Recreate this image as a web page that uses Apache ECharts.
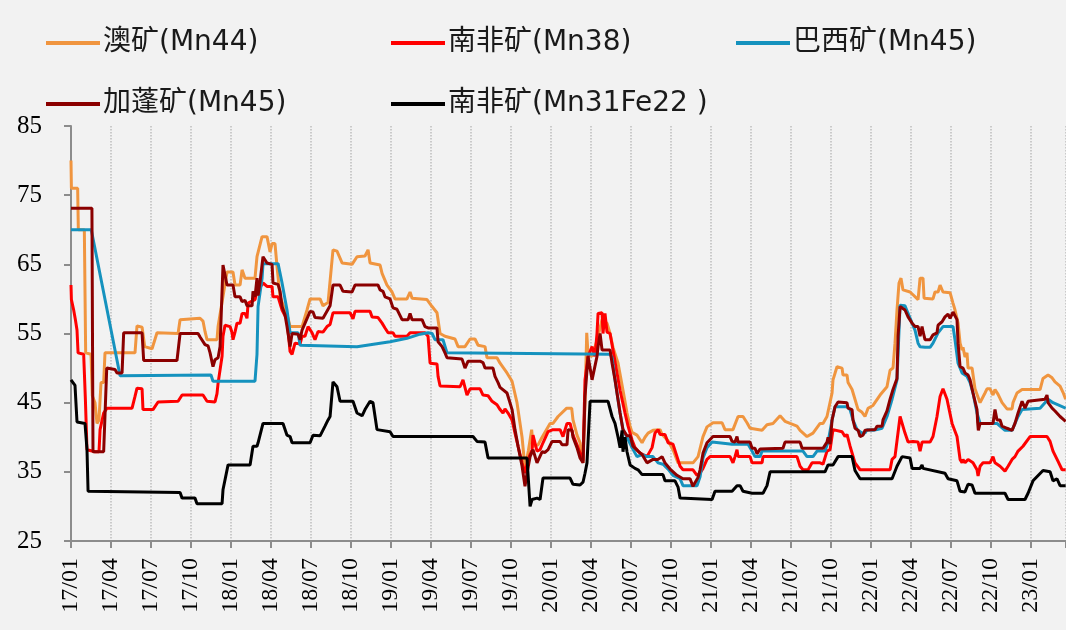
<!DOCTYPE html>
<html>
<head>
<meta charset="utf-8">
<script src="https://cdn.jsdelivr.net/npm/echarts@6/dist/echarts.min.js"></script>
<style>
html,body{margin:0;padding:0;background:#f2f2f2;}
#chart{width:1066px;height:630px;}
</style>
</head>
<body>
<div id="chart"></div>
<script>
// x = months since 2017-01 (value axis, one quarter = 3)
const quarterLabels = ['17/01','17/04','17/07','17/10','18/01','18/04','18/07','18/10','19/01','19/04','19/07','19/10','20/01','20/04','20/07','20/10','21/01','21/04','21/07','21/10','22/01','22/04','22/07','22/10','23/01'];
const seriesNames = ['澳矿(Mn44)','南非矿(Mn38)','巴西矿(Mn45)','加蓬矿(Mn45)','南非矿(Mn31Fe22 )'];

const ausMn44 = [[0,80],[0.03,76],[0.5,76],[0.55,70],[1.0,70],[1.1,52.2],[1.5,52],[1.6,46],[1.8,45],[1.95,42],[2.1,42.5],[2.25,47.9],[2.45,47.9],[2.55,52.2],[4.8,52.2],[4.95,56.1],[5.33,55.9],[5.53,53.1],[6.08,52.8],[6.45,55.1],[8.03,55],[8.18,57],[9.68,57.2],[9.9,56.8],[10.05,55.3],[10.2,54.1],[10.95,54.1],[11.03,56],[11.18,56],[11.7,63.9],[12.15,63.9],[12.3,62],[12.68,62],[12.83,64.2],[13.05,63],[13.8,63],[13.95,66.1],[14.33,69],[14.7,69],[14.93,66.8],[15.08,68],[15.3,68],[15.45,64.7],[15.68,60.3],[16.05,58.4],[16.28,57.2],[16.43,56],[17.33,56],[17.7,58.4],[17.93,60],[18.68,60],[18.9,59],[19.28,59.5],[19.65,67.1],[19.95,66.9],[20.33,65.2],[21.08,65],[21.45,66.1],[22.05,66.2],[22.28,67.1],[22.43,65.2],[23.18,64.9],[23.33,63.7],[23.7,62],[24.08,61],[24.3,60],[25.2,60],[25.43,61],[25.58,60.1],[26.7,59.9],[27.08,58.9],[27.45,58],[27.68,55],[28.05,54.6],[28.8,54.2],[29.03,53.1],[29.55,53.1],[29.93,54.2],[30.3,54.2],[30.53,53.3],[31.05,53.1],[31.2,51.5],[31.95,51.5],[32.18,50.7],[32.7,49.3],[33.08,48.1],[33.45,45],[33.83,40],[34.05,35.5],[34.3,38],[34.55,41.1],[34.65,38.7],[35.03,38.9],[35.3,39.9],[35.93,42],[36.15,42],[36.53,43],[37.18,44.2],[37.55,44.2],[37.65,42.5],[37.95,40.3],[38.18,39.2],[38.4,36.3],[38.55,45],[38.68,55.1],[38.78,52],[39.08,51.7],[39.45,54],[39.83,57],[40.2,56.5],[40.43,55],[40.65,53],[41.03,50.7],[41.4,46.8],[41.7,43.5],[41.93,41.6],[42.08,40.7],[42.45,40.3],[42.83,39.2],[43.05,40],[43.28,40.6],[43.65,41],[44.18,41.1],[44.33,40.4],[44.78,39.5],[45.15,38.2],[45.53,36.3],[46.65,36.3],[47.03,37.2],[47.4,40.1],[47.7,41.5],[48.15,42.1],[48.83,42.1],[49.05,41.1],[49.65,41.1],[50.03,43],[50.4,43],[50.7,42.1],[50.93,41.3],[51.83,41],[52.2,41.8],[52.65,42],[53.18,43.1],[53.55,42.3],[53.93,42],[54.45,41.6],[54.68,41],[55.2,40.1],[55.65,40.6],[56.18,42],[56.4,42],[56.7,43],[57.08,46.4],[57.15,48.3],[57.45,50.2],[57.83,50],[57.9,49],[58.2,49],[58.28,47.9],[58.58,46.9],[59.03,44],[59.33,43.6],[59.55,43],[59.78,44.2],[60.15,44.6],[60.68,46.1],[61.2,47.3],[61.43,49.7],[61.65,50],[61.8,53.6],[61.95,58.4],[62.1,62.3],[62.25,63],[62.4,61.3],[62.93,61],[63.15,60.6],[63.53,59.9],[63.68,63],[63.9,63],[63.98,60.1],[64.65,60],[64.8,61],[65.03,61],[65.18,62],[65.4,61],[65.93,60.9],[66.15,59.4],[66.3,58.4],[66.53,56.5],[66.68,53.6],[66.83,52.6],[66.9,53],[67.05,51.6],[67.2,52.2],[67.28,50],[67.58,50],[67.8,47],[68.18,45],[68.55,46.4],[68.7,47],[68.93,47],[69.15,46.1],[69.3,46.9],[69.53,46.2],[69.83,45],[70.2,44.1],[70.58,44.1],[70.65,45],[70.95,46.4],[71.33,46.9],[72.68,46.9],[72.9,48.5],[73.28,49],[73.58,48.6],[73.8,48],[74.18,47.4],[74.4,46.5],[74.6,45.5]];

const saMn38 = [[0,62],[0.03,59.9],[0.2,58.4],[0.33,57],[0.45,55.5],[0.53,52.2],[0.95,52],[1.08,45.4],[1.2,38.2],[1.8,37.9],[2.1,37.9],[2.18,41.1],[2.45,43.5],[2.7,44.2],[4.58,44.2],[4.8,45.9],[4.95,47.1],[5.33,47],[5.4,44],[6.15,44],[6.53,45.1],[8.03,45.2],[8.33,46.1],[9.9,46.1],[10.2,45.2],[10.8,45.1],[10.95,46.3],[11.03,47.8],[11.33,51.7],[11.4,54.6],[11.55,56.2],[11.93,56],[12.08,55.1],[12.15,54.1],[12.3,55.2],[12.45,56.5],[12.68,56.5],[12.83,57.9],[13.05,57.9],[13.2,57.2],[13.28,59.4],[13.8,59.9],[13.95,61.1],[14.4,62.3],[14.7,61.8],[15.08,61.8],[15.15,60.3],[15.53,60.3],[15.83,58.4],[16.2,57],[16.43,52.4],[16.58,52],[16.8,53.6],[17.18,53.5],[17.33,54.6],[17.55,54.6],[17.78,56],[18.08,55.1],[18.3,54.1],[18.53,55.3],[18.9,55.2],[19.2,56],[19.43,56.3],[19.65,58],[20.93,58],[21.08,58.1],[21.15,57.1],[21.3,58.2],[22.43,58.2],[22.58,57.4],[23.03,57.3],[23.33,56.5],[23.55,55.8],[23.78,55.1],[24.15,55.1],[24.3,54.6],[25.2,54.6],[25.43,55.1],[26.55,55.1],[26.78,54.6],[26.93,50.7],[27.45,50.6],[27.53,48.8],[27.68,47.4],[29.18,47.3],[29.4,48.3],[29.7,46.1],[29.93,47],[30.68,47],[30.9,46.1],[31.28,46],[31.58,45.2],[31.95,44.7],[32.18,44],[32.4,43.5],[32.55,44.1],[32.78,43.5],[33.08,42.5],[33.3,40.6],[33.53,38.7],[33.83,36.3],[34.05,34.8],[34.28,36.8],[34.58,38.2],[34.65,40.3],[34.95,38],[35.18,38.2],[35.4,39.2],[35.78,40.8],[36.15,41.1],[36.68,41.1],[36.9,40.1],[37.2,42],[37.43,42],[37.65,40.3],[37.95,38.9],[38.18,37.7],[38.4,36.6],[38.55,48.3],[38.78,51.7],[39.08,53.1],[39.3,51.7],[39.45,55],[39.53,57.9],[39.83,58],[39.9,55],[40.05,57.9],[40.2,55.2],[40.43,55],[40.65,52.6],[40.95,49.3],[41.18,46.8],[41.55,43.5],[41.78,41.6],[42.08,39.6],[42.3,38.5],[42.68,37.7],[43.2,37.2],[43.58,38.5],[43.8,40.6],[44.03,41.1],[44.18,40.4],[44.55,40.4],[44.78,39.2],[45.15,39],[45.45,37.2],[45.68,35.8],[45.9,35.3],[46.65,35.3],[46.95,34.5],[47.18,34.8],[47.4,35.5],[47.7,36.8],[47.93,37.2],[49.43,37.2],[49.65,36.3],[49.8,37.2],[49.95,38.2],[50.03,37.2],[50.93,37.2],[51.08,36.3],[51.83,36.3],[51.9,37.2],[54.45,37.2],[54.68,35.8],[54.9,35.3],[55.28,35.3],[55.58,36.3],[56.18,36.3],[56.4,36.1],[56.7,38],[56.93,38.2],[57.15,41.1],[57.3,41.2],[57.83,40.8],[58.05,40.1],[58.2,40.4],[58.43,38.7],[58.8,36.3],[59.18,35.3],[61.43,35.3],[61.58,36.8],[61.8,37.2],[62.18,43],[62.55,40.6],[62.78,39.3],[63.15,39.4],[63.53,39.3],[63.68,38],[63.83,39.3],[64.43,39.3],[64.65,40.1],[64.95,43],[65.18,45.9],[65.4,47],[65.7,45.5],[66.08,42],[66.45,40.1],[66.68,36.8],[66.83,36.3],[66.9,36.8],[67.05,36.3],[67.28,36.8],[67.65,36.3],[67.95,35.3],[68.03,34.4],[68.18,35.8],[68.4,36.3],[68.93,36.3],[69.15,37.2],[69.3,36.3],[69.68,35.8],[70.05,35.1],[70.28,35.8],[70.58,36.8],[70.8,37.2],[71.03,38],[71.4,38.7],[71.93,40.1],[73.2,40.1],[73.43,39.4],[73.65,38],[74.03,36.5],[74.33,35.3],[74.6,35.3]];

const brMn45 = [[0,70],[1.52,70],[3.68,48.9],[10.5,49],[10.65,48.1],[13.8,48.1],[13.95,52],[14.03,58.9],[14.33,63],[14.4,65.1],[15.53,65.1],[15.83,62.3],[16.2,58.4],[16.43,55.1],[17.03,55.1],[17.18,53.3],[21.45,53.1],[23.93,53.8],[25.2,54.3],[26.18,54.9],[26.78,55.1],[27.08,55],[27.3,54.1],[27.9,54.1],[28.2,52.2],[40.43,52],[40.58,51.5],[40.8,48.3],[41.18,43.5],[41.4,41.1],[41.7,40],[42.08,38.5],[42.45,37.2],[42.83,37.5],[43.2,37.2],[43.65,37.2],[44.03,36.3],[44.4,36.1],[44.78,35.4],[45.15,34.5],[45.68,34],[45.9,33],[46.95,33],[47.18,34.3],[47.4,37],[47.7,38.5],[48.08,39.3],[49.58,39],[50.78,39],[51.08,38],[51.3,37.2],[51.68,37.2],[51.83,38],[54.9,38],[55.2,37.2],[55.65,37.2],[55.95,38],[56.55,38],[56.78,39.3],[57.08,42.5],[57.3,44.4],[58.2,44.4],[58.43,44],[58.65,42.5],[58.95,41.1],[59.33,40.6],[59.55,40.6],[59.7,41.1],[60.15,41],[60.45,41.1],[60.83,41.3],[61.2,43],[61.58,45.5],[61.95,48.3],[62.18,59.1],[62.55,59],[62.78,57.9],[63.08,56.5],[63.3,55.5],[63.53,53.6],[63.68,53.1],[64.05,53],[64.43,53],[64.65,53.6],[65.03,55.1],[65.4,56],[66.15,56],[66.3,54.1],[66.53,50.7],[66.83,49.3],[67.2,48.8],[67.43,47.9],[67.65,46.4],[67.95,43.5],[68.18,42],[69.45,42],[69.68,41.6],[70.05,41],[70.58,41],[70.8,42],[71.03,43],[71.33,44],[72.68,44.2],[73.05,45],[73.28,45.5],[73.65,45],[74.6,44.2]];

const gabonMn45 = [[0,73.1],[1.57,73.1],[1.65,37.9],[2.45,37.9],[2.68,50],[3.3,49.8],[3.45,49.3],[3.83,49.3],[3.95,55.1],[5.33,55.1],[5.45,51.1],[7.95,51.1],[8.18,55],[9.53,55],[9.68,54.5],[10.05,53.4],[10.28,53.2],[10.43,52.2],[10.65,50.2],[10.8,51.2],[11.03,51.5],[11.18,53.1],[11.4,64.9],[11.55,64.9],[11.7,62],[12.15,62],[12.3,60.3],[12.68,60.3],[12.83,59.6],[13.05,59.8],[13.2,59],[13.58,59],[13.65,61.1],[13.8,60.3],[13.95,63],[14.03,60.5],[14.18,62.5],[14.4,66.1],[14.7,65.2],[15.08,65],[15.15,62.3],[15.53,62.1],[15.68,61.1],[15.83,58.9],[16.05,57.7],[16.2,56],[16.43,53.1],[16.58,55],[17.03,54.9],[17.18,54.1],[17.33,55.5],[17.93,58.2],[18.15,58.1],[18.3,57.3],[18.9,57.2],[19.43,59],[19.65,62],[20.18,62],[20.4,61.1],[21.08,61],[21.3,62],[23.03,62],[23.18,61.3],[23.4,61.1],[23.55,60.3],[23.93,60],[24.15,58.7],[24.45,58.5],[24.83,57],[25.28,57],[25.43,57.9],[25.58,57],[26.33,57],[26.55,56],[26.78,55.8],[27.45,55.8],[27.53,53.8],[27.83,53.1],[28.05,52.2],[28.2,51.5],[29.33,51.3],[29.55,50],[29.78,51],[30.68,51],[30.9,50.8],[31.05,50],[31.65,50],[31.8,48.8],[32.03,47.9],[32.18,47.2],[32.7,46.4],[33.08,44],[33.3,41.1],[33.53,38.7],[33.83,35.8],[34.05,32.9],[34.2,34.8],[34.43,37.2],[34.65,38.2],[34.95,36.3],[35.03,36.1],[35.33,37.9],[35.55,37.8],[35.78,38.2],[36.08,39.4],[36.68,39.4],[36.83,38.9],[37.2,38.9],[37.28,41.1],[37.58,41],[37.65,40],[37.95,38.5],[38.18,37],[38.4,36.3],[38.55,45.9],[38.78,51.7],[38.93,51.7],[39.08,48.3],[39.15,48.2],[39.45,51.7],[39.53,53.1],[39.68,55],[39.83,52.6],[40.43,52.6],[40.58,50.7],[40.8,48.3],[40.95,46.4],[41.18,43.5],[41.33,43.3],[41.4,41.1],[41.7,40.2],[41.93,40.2],[42.15,38.7],[42.53,38],[42.83,37.5],[43.2,36.3],[43.65,36.8],[44.03,36.8],[44.33,37.2],[44.55,36.3],[44.93,35.4],[45.45,34.5],[45.9,34],[46.43,34],[46.65,32.9],[47.03,34.2],[47.18,35.3],[47.4,37.7],[47.7,39.2],[48.15,40.1],[49.43,40.1],[49.58,39.4],[49.8,39.3],[49.95,40.1],[50.03,39.3],[50.93,39.3],[51.08,38.4],[51.3,38.4],[51.45,37.6],[51.68,38.3],[51.83,38.4],[53.4,38.4],[53.55,39.3],[54.68,39.3],[54.83,38.4],[56.4,38.4],[56.7,39.3],[56.78,40],[56.93,39],[57.08,42.5],[57.3,44.4],[57.53,45.1],[58.2,45],[58.28,44.2],[58.58,44],[58.65,42.5],[58.8,41.3],[59.03,41],[59.18,40.1],[59.4,40.3],[59.55,41],[60.08,41.1],[60.3,41.1],[60.45,41.6],[60.83,41.6],[60.9,42.5],[61.2,43.8],[61.43,45.5],[61.65,46.9],[61.95,48.5],[62.03,54.6],[62.18,58.9],[62.33,59.1],[62.55,58.4],[62.78,57.4],[63.08,56.5],[63.3,56],[63.53,56],[63.68,54.6],[63.83,56],[63.9,55.3],[64.05,54.1],[64.43,54.1],[64.65,54.8],[64.95,55.1],[65.03,56.2],[65.33,56.7],[65.55,57.4],[65.78,57.8],[65.93,57.2],[66.15,58.1],[66.45,57],[66.53,53.6],[66.68,50.2],[66.9,50],[67.05,49.3],[67.28,49],[67.43,48.3],[67.65,46.4],[67.95,44],[68.0,42.1],[68.05,41],[68.18,42],[69.15,42],[69.3,44],[69.45,42.5],[69.68,42.5],[69.83,41.6],[70.2,41.3],[70.58,41],[70.8,42],[71.03,43.5],[71.33,45.2],[71.55,44.2],[71.78,45.2],[73.05,45.5],[73.2,46.1],[73.28,45],[73.58,44.2],[73.8,43.8],[74.18,43],[74.6,42.3]];

const saMn31Fe22 = [[0,48.3],[0.3,47.5],[0.45,42.2],[1.05,42],[1.2,38.2],[1.28,32.2],[8.18,32],[8.33,31.2],[9.3,31.2],[9.45,30.4],[11.33,30.4],[11.4,32.4],[11.78,36],[13.43,36],[13.65,38.7],[13.95,38.7],[14.03,39.2],[14.18,39.2],[14.4,42],[15.9,42],[16.2,40.3],[16.43,40.1],[16.58,39.2],[17.93,39.2],[18.15,40.3],[18.68,40.2],[19.05,41.6],[19.28,42.5],[19.43,43],[19.65,48],[19.95,47.3],[20.18,45.2],[21.15,45.2],[21.45,43.5],[21.83,43.1],[22.05,44],[22.2,44.2],[22.43,45.2],[22.65,45],[22.95,41.1],[23.93,40.8],[24.15,40.1],[30.15,40.1],[30.45,39.4],[31.05,39.3],[31.28,37],[34.2,37],[34.28,36.8],[34.43,30],[34.58,31],[34.95,31.2],[35.18,31],[35.4,34.1],[37.43,34.1],[37.65,33.2],[38.18,33.1],[38.4,33.5],[38.55,34.8],[38.7,36.3],[38.93,45.2],[40.28,45.2],[40.58,43],[40.8,42],[41.03,40],[41.18,38.5],[41.33,41],[41.4,37.9],[41.55,40],[41.7,37.9],[41.93,36],[42.3,35.5],[42.53,35.3],[42.83,34.6],[44.4,34.6],[44.55,33.7],[45.3,33.7],[45.53,32.8],[45.68,31.2],[48.08,31],[48.3,32.2],[49.58,32.2],[49.95,33],[50.18,33],[50.4,32.2],[51.08,31.9],[51.9,31.9],[52.2,33],[52.43,35],[56.55,35],[56.78,36],[57.15,36],[57.53,37.2],[58.58,37.2],[58.8,35.2],[59.18,34],[61.58,34],[61.95,35.8],[62.33,37.2],[62.93,37],[63.08,35.5],[63.68,35.5],[63.83,36],[63.9,35.5],[65.55,34.8],[65.78,34],[66.45,33.7],[66.68,32.2],[67.05,32.1],[67.28,33.2],[67.58,33.1],[67.8,31.9],[70.05,31.9],[70.28,31],[71.55,31],[71.78,31.9],[72.15,33.7],[72.9,35.2],[73.43,35],[73.65,33.7],[73.95,34],[74.18,33],[74.6,33]];

const seriesData = [ausMn44, saMn38, brMn45, gabonMn45, saMn31Fe22];
const colors = ['#F0953F', '#FF0000', '#1592BE', '#8B0000', '#000000'];

const chart = echarts.init(document.getElementById('chart'), null, {renderer: 'canvas'});

const legendFont = "'DejaVu Sans', 'Noto Sans CJK SC', sans-serif";
const legendPos = [[46, 28], [391, 28], [736, 28], [46, 89], [391, 89]];
const legends = seriesNames.map((n, i) => ({
  data: [n],
  left: legendPos[i][0],
  top: legendPos[i][1],
  padding: 0,
  icon: 'rect',
  itemWidth: 54,
  itemHeight: 4,
  selectedMode: false,
  textStyle: {fontSize: 28, lineHeight: 30, color: '#1a1a1a', fontFamily: legendFont, padding: [0, 0, 0, -2]}
}));

chart.setOption({
  animation: false,
  backgroundColor: '#f2f2f2',
  color: colors,
  legend: legends,
  grid: {left: 71, right: 0, top: 126, bottom: 89, containLabel: false},
  xAxis: {
    type: 'value',
    min: 0,
    max: 74.625,
    interval: 3,
    axisLine: {show: true, lineStyle: {color: '#8c8c8c', width: 2}},
    axisTick: {show: true, length: 7, lineStyle: {color: '#8c8c8c', width: 2}},
    axisLabel: {
      rotate: 90,
      margin: 17,
      fontSize: 24,
      color: '#000',
      fontFamily: "'Liberation Serif', serif",
      formatter: v => {
        const k = Math.round(v / 3);
        return (Math.abs(v - k * 3) < 1e-6 && quarterLabels[k]) ? quarterLabels[k] : '';
      }
    },
    splitLine: {show: true, lineStyle: {color: '#bdbdbd', type: 'dotted', width: 1.5}}
  },
  yAxis: {
    type: 'value',
    min: 25,
    max: 85,
    interval: 10,
    axisLine: {show: true, lineStyle: {color: '#8c8c8c', width: 2}},
    axisTick: {show: true, length: 7, lineStyle: {color: '#8c8c8c', width: 2}},
    axisLabel: {margin: 29, fontSize: 25, color: '#000', fontFamily: "'Liberation Serif', serif"},
    splitLine: {show: false}
  },
  series: seriesNames.map((n, i) => ({
    name: n,
    type: 'line',
    data: seriesData[i],
    showSymbol: false,
    symbol: 'none',
    lineStyle: {width: 3, color: colors[i]},
    itemStyle: {color: colors[i]},
    emphasis: {disabled: true}
  }))
});
</script>
</body>
</html>
